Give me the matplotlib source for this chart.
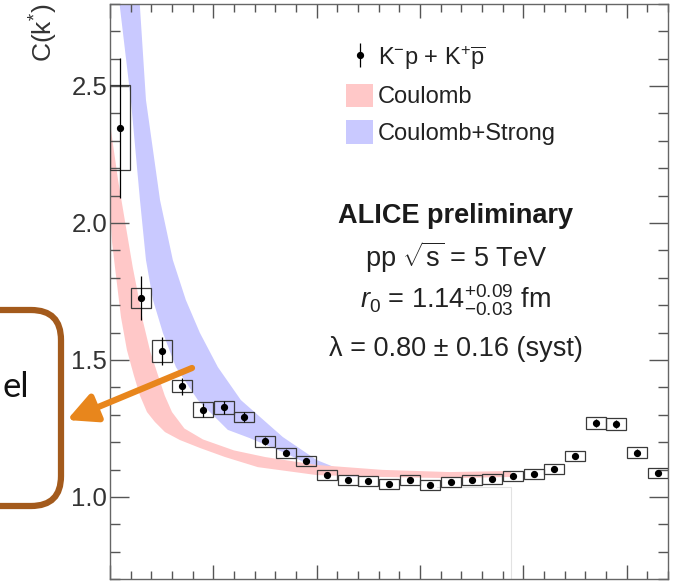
import matplotlib.pyplot as plt
from matplotlib.patches import Patch, FancyBboxPatch, FancyArrowPatch
from matplotlib.ticker import MultipleLocator, FormatStrFormatter

plt.rcParams['font.family'] = ['Liberation Sans', 'DejaVu Sans']
plt.rcParams['mathtext.fontset'] = 'custom'
plt.rcParams['mathtext.rm'] = 'Liberation Sans'
plt.rcParams['mathtext.it'] = 'Liberation Sans:italic'
plt.rcParams['mathtext.bf'] = 'Liberation Sans:bold'

# K-p correlation function, bin centres in k* (MeV/c)
kstar = [5, 15, 25, 35, 45, 55, 65, 75, 85, 95, 105, 115, 125, 135,
         145, 155, 165, 175, 185, 195, 205, 215, 225, 235, 245, 255, 265]
cf = [2.347, 1.726, 1.533, 1.405, 1.318, 1.328, 1.292, 1.204, 1.161,
      1.131, 1.080, 1.062, 1.058, 1.047, 1.062, 1.044, 1.055, 1.062,
      1.066, 1.077, 1.084, 1.102, 1.150, 1.270, 1.266, 1.161, 1.088]
stat = [0.257, 0.079, 0.052, 0.031, 0.025, 0.024, 0.018, 0.014, 0.013,
        0.012, 0.010, 0.010, 0.010, 0.010, 0.010, 0.010, 0.010, 0.010,
        0.010, 0.010, 0.010, 0.011, 0.012, 0.014, 0.014, 0.013, 0.012]
syst = [0.155, 0.036, 0.040, 0.022, 0.027, 0.024, 0.020, 0.020, 0.019,
        0.019, 0.018, 0.018, 0.018, 0.018, 0.018, 0.018, 0.018, 0.018,
        0.018, 0.018, 0.018, 0.018, 0.019, 0.022, 0.022, 0.020, 0.019]

# Coulomb-only band edges
coul_lo_x = [-2, 0, 1, 2.4, 5.3, 8.2, 11.5, 14.5, 17.9, 21.7, 26.6, 33.8,
             43.5, 55.6, 71.5, 100, 131.9, 164.3, 194]
coul_lo_y = [2.10, 2.05, 1.93, 1.839, 1.657, 1.536, 1.445, 1.370, 1.310,
             1.274, 1.237, 1.208, 1.179, 1.146, 1.109, 1.080, 1.073, 1.069,
             1.073]
coul_hi_x = [-2, 0, 3.9, 8.2, 11, 13.3, 16, 19.5, 23.2, 26.5, 30, 36, 45,
             60, 75, 100, 131.9, 164.3, 194]
coul_hi_y = [2.45, 2.365, 2.157, 1.964, 1.839, 1.750, 1.640, 1.530, 1.445,
             1.370, 1.310, 1.250, 1.210, 1.170, 1.146, 1.117, 1.099, 1.091,
             1.095]

# Coulomb + strong band edges
str_lo_x = [3, 4.8, 10.1, 14.5, 17.4, 20.8, 25.6, 31.9, 42.5, 57, 67.6,
            83.6, 100, 114.5, 130, 160, 194]
str_lo_y = [3.1, 2.788, 2.449, 2.084, 1.865, 1.719, 1.599, 1.474, 1.354,
            1.245, 1.215, 1.164, 1.106, 1.075, 1.075, 1.072, 1.075]
str_hi_x = [12, 14.5, 17.4, 24.2, 30.4, 36.7, 43.5, 52.2, 63.3, 83.6, 100,
            114.5, 130.4, 160, 194]
str_hi_y = [3.1, 2.788, 2.449, 2.084, 1.865, 1.719, 1.599, 1.474, 1.354,
            1.219, 1.135, 1.091, 1.080, 1.080, 1.085]

pink = '#ffc8c8'
blue = '#c9c9ff'

fig = plt.figure(figsize=(6.8, 5.81), dpi=100)
ax = fig.add_axes([110 / 680, 1.8 / 581, 558 / 680, 575.4 / 581])

ax.fill(str_lo_x + str_hi_x[::-1], str_lo_y + str_hi_y[::-1],
        color=blue, lw=0, zorder=1)
ax.fill(coul_lo_x + coul_hi_x[::-1], coul_lo_y + coul_hi_y[::-1],
        color=pink, lw=0, zorder=1.5)

# thin leftover outline at the end of the model band
ax.plot([158, 194, 194], [1.038, 1.038, 0.7], color='#e2e2e2', lw=0.8,
        zorder=1.6)

ax.bar(kstar, [2 * s for s in syst], bottom=[c - s for c, s in zip(cf, syst)],
       width=9.7, fill=False, edgecolor='#3a3a3a', linewidth=0.9, zorder=3)
eb = ax.errorbar(kstar, cf, yerr=stat, fmt='o', ms=4.2, color='black',
                 elinewidth=0.9, capsize=0, zorder=4)

ax.set_xlim(0, 270)
ax.set_ylim(0.7, 2.8)
ax.xaxis.set_major_locator(MultipleLocator(50))
ax.xaxis.set_minor_locator(MultipleLocator(10))
ax.yaxis.set_major_locator(MultipleLocator(0.5))
ax.yaxis.set_minor_locator(MultipleLocator(0.1))
ax.yaxis.set_major_formatter(FormatStrFormatter('%.1f'))
ax.tick_params(axis='both', which='both', direction='in', top=True,
               right=True, color='#555555', width=1.0, labelbottom=False)
ax.tick_params(axis='x', which='major', length=10)
ax.tick_params(axis='x', which='minor', length=5.5)
ax.tick_params(axis='y', which='major', length=13.5, labelsize=18.5,
               labelcolor='#333333', pad=2)
ax.tick_params(axis='y', which='minor', length=7)
for sp in ax.spines.values():
    sp.set_color('#666666')
    sp.set_linewidth(1.0)

ax.set_ylabel(r'C(k$^{*}$)', fontsize=19, color='#333333', loc='top')
ax.yaxis.set_label_coords(-0.09, 1.0)

leg = ax.legend([eb, Patch(color=pink, lw=0), Patch(color=blue, lw=0)],
                [r'K$^{-}$p + K$^{+}\overline{\mathrm{p}}$', 'Coulomb',
                 'Coulomb+Strong'],
                loc='upper left', bbox_to_anchor=(0.423, 0.93), frameon=False,
                fontsize=17, borderpad=0, borderaxespad=0, handlelength=1.15,
                handleheight=1.15, handletextpad=0.2, labelspacing=0.5)
for t in leg.get_texts():
    t.set_color('#222222')

tx = 0.62
ax.text(tx, 0.619, 'ALICE preliminary', transform=ax.transAxes, ha='center',
        va='baseline', fontsize=19.5, fontweight='bold', color='#1a1a1a')
ax.text(tx, 0.542, r'pp $\sqrt{\mathrm{s}}$ = 5 TeV', transform=ax.transAxes,
        ha='center', va='baseline', fontsize=19.5, color='#222222')
ax.text(tx, 0.470, r'$r_0$ = 1.14$^{+0.09}_{-0.03}$ fm',
        transform=ax.transAxes, ha='center', va='baseline', fontsize=19.5,
        color='#222222')
ax.text(tx, 0.388, 'λ = 0.80 ± 0.16 (syst)',
        transform=ax.transAxes, ha='center', va='baseline', fontsize=19.5,
        color='#222222')

# call-out box and arrow on the slide
box = FancyBboxPatch((-0.4, 0.75), 1.01, 1.96,
                     boxstyle='round,pad=0,rounding_size=0.3',
                     transform=fig.dpi_scale_trans, fill=False,
                     edgecolor='#a35a1c', lw=4.5)
fig.add_artist(box)
fig.text(29 / 680, (581 - 397) / 581, 'el', ha='right', va='baseline',
         fontsize=25, family=['Lato', 'DejaVu Sans'], color='#111111')
arrow = FancyArrowPatch((1.92, 2.13), (0.67, 1.61),
                        arrowstyle='-|>,head_length=0.8,head_width=0.4',
                        mutation_scale=22, lw=4.5, color='#e8861c',
                        shrinkA=0, shrinkB=0, transform=fig.dpi_scale_trans,
                        zorder=10)
fig.add_artist(arrow)

fig.savefig('out.png', dpi=100)
